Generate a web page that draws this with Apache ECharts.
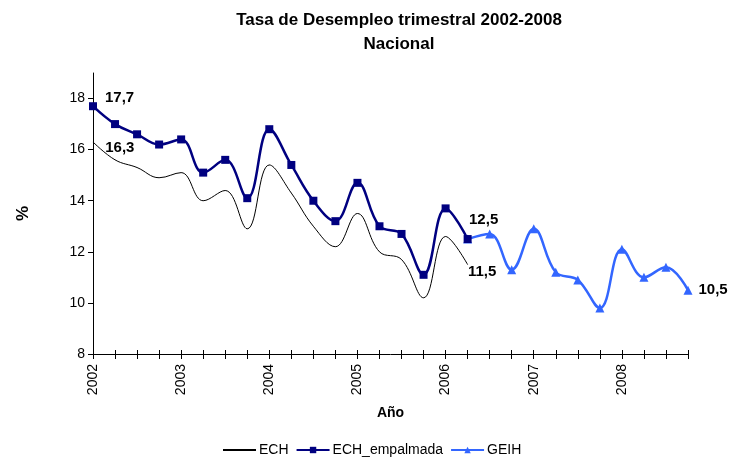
<!DOCTYPE html>
<html>
<head>
<meta charset="utf-8">
<script src="https://cdn.jsdelivr.net/npm/echarts@6/dist/echarts.min.js"></script>
<style>
  html, body { margin: 0; padding: 0; background: #fff; }
  #chart { width: 730px; height: 465px; }
</style>
</head>
<body>
<div id="chart"></div>
<script>
// trimestres 2002-2008 (etiqueta = año)
var years = ['2002', '2003', '2004', '2005', '2006', '2007', '2008'];
var categories = [];
years.forEach(function (y) { categories.push(y, y, y, y); });

// tasa de desempleo (%)
var ech = [16.3, 15.6, 15.3, 14.9, 15.1, 14.0, 14.4, 12.9, 15.4, 14.3, 13.0, 12.2,
           13.5, 12.0, 11.7, 10.2, 12.6, 11.5];
var echEmpalmada = [17.7, 17.0, 16.6, 16.2, 16.4, 15.1, 15.6, 14.1, 16.8, 15.4, 14.0, 13.2,
                    14.7, 13.0, 12.7, 11.1, 13.7, 12.5];
var geih = [null, null, null, null, null, null, null, null, null, null, null, null,
            null, null, null, null, null, 12.5, 12.7, 11.3, 12.9, 11.2, 10.9, 9.8,
            12.1, 11.0, 11.4, 10.5];

// puntos con etiqueta: índice -> posición
var echLabels = { 0: 'right', 17: 'right' };
var empLabels = { 0: 'right' };
var geihLabels = { 17: 'top', 27: 'right' };

function withLabels(values, labels, offsets) {
    return values.map(function (v, i) {
        if (labels[i] === undefined) return v;
        return {
            value: v,
            label: {
                show: true,
                position: labels[i],
                offset: offsets[i] || [0, 0],
                formatter: function (p) { return String(p.value).replace('.', ','); }
            }
        };
    });
}

var labelStyle = { fontFamily: 'Liberation Sans', fontWeight: 'bold', fontSize: 15, color: '#000', distance: 5 };

let myChart = echarts.init(document.getElementById('chart'));

let option = {
    backgroundColor: '#fff',
    animation: false,
    title: {
        text: 'Tasa de Desempleo trimestral 2002-2008\nNacional',
        left: 394,
        top: 3,
        textAlign: 'center',
        textStyle: {
            fontFamily: 'Liberation Sans',
            fontWeight: 'bold',
            fontSize: 17,
            lineHeight: 24,
            color: '#000'
        }
    },
    legend: {
        top: 443,
        left: 222,
        padding: 0,
        itemWidth: 33,
        itemHeight: 8,
        itemGap: 7,
        textStyle: { fontFamily: 'Liberation Sans', fontSize: 14, color: '#000', padding: [0, 0, 0, -2] },
        data: [
            { name: 'ECH', itemStyle: { opacity: 0 } },
            'ECH_empalmada',
            'GEIH'
        ]
    },
    grid: { left: 93, right: 42, top: 73, bottom: 111 },
    xAxis: [{
        type: 'category',
        data: categories,
        boundaryGap: false,
        name: 'Año',
        nameLocation: 'middle',
        nameGap: 52,
        nameTextStyle: { fontFamily: 'Liberation Sans', fontWeight: 'bold', fontSize: 14, color: '#000' },
        axisLine: { lineStyle: { color: '#000', width: 1 } },
        axisTick: { show: true, interval: 0, length: 5, lineStyle: { color: '#000' } },
        axisLabel: {
            interval: 3,
            rotate: 90,
            margin: 10,
            fontFamily: 'Liberation Sans',
            fontSize: 14,
            color: '#000'
        },
        splitLine: { show: false }
    }, {
        type: 'category',
        data: categories,
        boundaryGap: false,
        position: 'bottom',
        axisLine: { show: false },
        axisTick: { show: true, inside: true, interval: 0, length: 4, lineStyle: { color: '#000' } },
        axisLabel: { show: false },
        splitLine: { show: false }
    }],
    yAxis: {
        type: 'value',
        min: 8,
        max: 19,
        interval: 2,
        name: '%',
        nameLocation: 'middle',
        nameRotate: 90,
        nameGap: 61,
        nameTextStyle: { fontFamily: 'Liberation Sans', fontWeight: 'bold', fontSize: 17, color: '#000' },
        axisLine: { show: true, lineStyle: { color: '#000', width: 1 } },
        axisTick: { show: true, length: 5, lineStyle: { color: '#000' }, customValues: [8, 10, 12, 14, 16, 18] },
        axisLabel: {
            customValues: [8, 10, 12, 14, 16, 18],
            margin: 8,
            fontFamily: 'Liberation Sans',
            fontSize: 14,
            color: '#000'
        },
        splitLine: { show: false }
    },
    series: [
        {
            name: 'ECH',
            type: 'line',
            smooth: 0.4,
            symbol: 'circle',
            symbolSize: 0.5,
            color: '#000',
            lineStyle: { width: 1, color: '#000' },
            itemStyle: { color: '#000' },
            label: labelStyle,
            data: withLabels(ech, echLabels, { 0: [7, 6], 17: [-5, 7] }),
            z: 2
        },
        {
            name: 'ECH_empalmada',
            type: 'line',
            smooth: 0.4,
            symbol: 'rect',
            symbolSize: 8,
            color: '#000080',
            lineStyle: { width: 2.5, color: '#000080' },
            itemStyle: { color: '#000080' },
            label: labelStyle,
            data: withLabels(echEmpalmada, empLabels, { 0: [3, -8] }),
            z: 3
        },
        {
            name: 'GEIH',
            type: 'line',
            smooth: 0.4,
            symbol: 'triangle',
            symbolSize: 9,
            color: '#3366ff',
            lineStyle: { width: 2.5, color: '#3366ff' },
            itemStyle: { color: '#3366ff' },
            label: labelStyle,
            data: withLabels(geih, geihLabels, { 17: [16, -2], 27: [1, 0] }),
            z: 2
        }
    ]
};

myChart.setOption(option);
</script>
</body>
</html>
